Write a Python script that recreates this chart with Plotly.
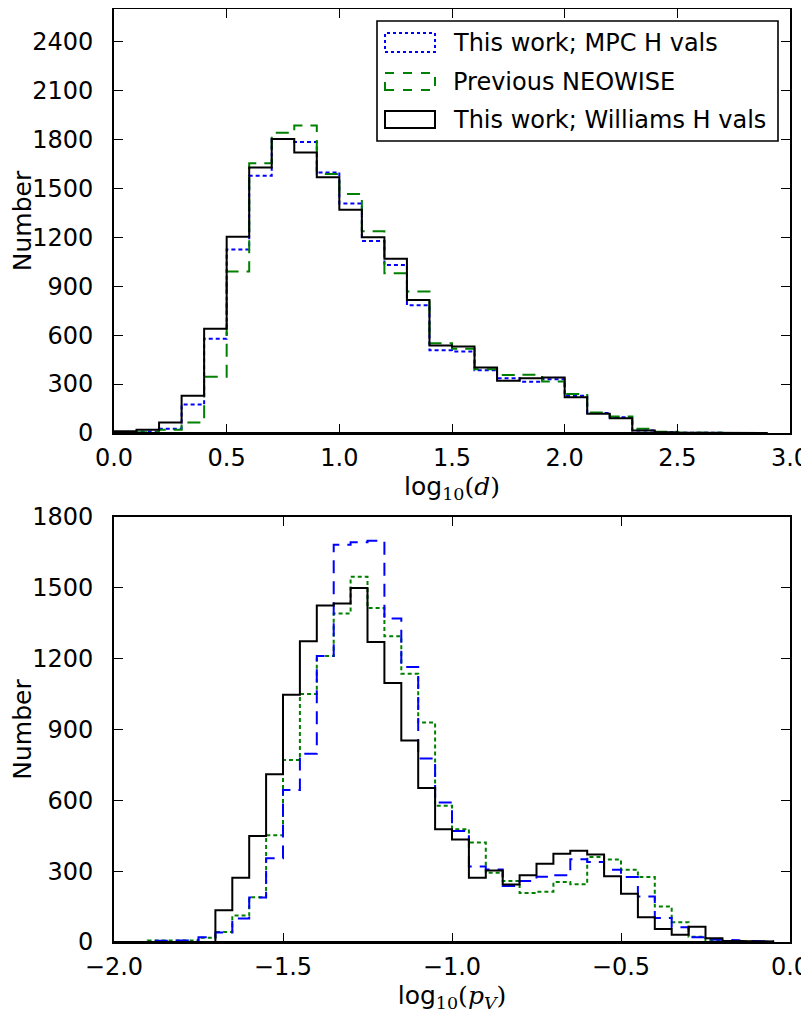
import numpy as np
import plotly.graph_objects as go
from plotly.subplots import make_subplots

# ---------------- data ----------------
# Top panel: log10(d), bins of 0.1 from 0.0 to 2.9
d_bin_start = 0.0
d_bin_width = 0.1
d_williams = [10, 20, 65, 229, 639, 1203, 1628, 1803, 1720, 1568, 1369, 1200, 1069, 815,
              537, 530, 401, 320, 335, 340, 219, 118, 91, 16, 4, 1, 1, 0, 0]
d_mpc = [3, 8, 26, 174, 578, 1126, 1578, 1803, 1785, 1598, 1407, 1178, 1030, 783,
         507, 499, 385, 335, 314, 330, 229, 122, 97, 16, 4, 2, 1, 0, 0]
d_prev = [1, 5, 20, 65, 345, 990, 1654, 1841, 1886, 1588, 1466, 1237, 980, 868,
          550, 517, 391, 355, 357, 316, 239, 126, 101, 26, 8, 2, 1, 0, 0]

# Bottom panel: log10(pV), bins of 0.05 from -2.0 to -0.05
p_bin_start = -2.0
p_bin_width = 0.05
p_williams = [0, 0, 0, 0, 0, 0, 135, 272, 449, 711, 1047, 1274, 1425, 1434, 1499, 1271,
              1097, 853, 652, 478, 434, 272, 303, 244, 283, 331, 374, 386, 371, 279,
              204, 105, 55, 31, 65, 16, 5, 3, 2]
p_mpc = [0, 0, 5, 6, 7, 20, 40, 100, 188, 355, 644, 797, 1211, 1682, 1693, 1699,
         1370, 1165, 777, 591, 470, 320, 307, 237, 258, 276, 283, 350, 339, 306,
         275, 193, 102, 62, 20, 11, 8, 5, 3]
p_prev = [0, 0, 6, 7, 6, 18, 42, 112, 190, 452, 771, 1050, 1211, 1391, 1547, 1415,
          1295, 1136, 930, 577, 478, 421, 293, 258, 208, 213, 254, 245, 360, 349,
          306, 275, 150, 84, 22, 8, 4, 2, 1]

legend_labels = ["This work; MPC H vals", "Previous NEOWISE", "This work; Williams H vals"]

BLUE = "#0000ff"
GREEN = "#008000"
BLACK = "#000000"
DOT = "4px,3px"
DASH = "13px,8px"


def step_outline(start, width, counts):
    """Closed step outline (matplotlib histtype='step' style)."""
    counts = np.asarray(counts, dtype=float)
    edges = start + width * np.arange(len(counts) + 1)
    xs = [edges[0]]
    ys = [0.0]
    for i, c in enumerate(counts):
        xs += [edges[i], edges[i + 1]]
        ys += [c, c]
    xs += [edges[-1], edges[0]]
    ys += [0.0, 0.0]
    return xs, ys


# page body has an 8px margin; lay the figure out in screenshot pixels
OFF = 8
W, H = 809 - OFF, 1013 - OFF
PL, PR, PT, PB = 114, 790, 9, 942          # plotting block in screenshot px
ML = PL - OFF
MT = PT - OFF
PW = PR - PL
PH = PB - PT
MR = W - ML - PW
MB = H - MT - PH


def fy(py):
    return (PB - py) / PH


def fx(px):
    return (px - PL) / PW


fig = make_subplots(rows=2, cols=1)

series_top = [(d_mpc, BLUE, DOT), (d_prev, GREEN, DASH), (d_williams, BLACK, "solid")]
for vals, col, dash in series_top:
    xs, ys = step_outline(d_bin_start, d_bin_width, vals)
    fig.add_trace(go.Scatter(x=xs, y=ys, mode="lines", showlegend=False,
                             line=dict(color=col, width=2, dash=dash)), row=1, col=1)

series_bot = [(p_prev, GREEN, DOT), (p_mpc, BLUE, DASH), (p_williams, BLACK, "solid")]
for vals, col, dash in series_bot:
    xs, ys = step_outline(p_bin_start, p_bin_width, vals)
    fig.add_trace(go.Scatter(x=xs, y=ys, mode="lines", showlegend=False,
                             line=dict(color=col, width=2, dash=dash)), row=2, col=1)

FONT = "DejaVu Sans"
TICK_FS = 24
TITLE_FS = 25
axis_common = dict(showline=True, linecolor="black", linewidth=1.6, mirror="allticks",
                   ticks="inside", ticklen=9, tickwidth=1.2, tickcolor="black",
                   showgrid=False, zeroline=False, automargin=False,
                   ticklabeloverflow="allow",
                   tickfont=dict(family=FONT, size=TICK_FS, color="black"))

SER = "font-family:DejaVu Serif"
fig.update_xaxes(axis_common, row=1, col=1, range=[0, 3], dtick=0.5, tick0=0,
                 tickformat=".1f", domain=[0, 1], ticklabelstandoff=2,
                 title=dict(text=f'log<sub><span style="{SER}">10</span></sub>'
                                 f'<span style="{SER}">(<i>d</i>)</span>',
                            font=dict(family=FONT, size=TITLE_FS, color="black"), standoff=0))
fig.update_yaxes(axis_common, row=1, col=1, range=[0, 2600], dtick=300, tick0=0,
                 domain=[fy(433), 1], ticklabelstandoff=14,
                 title=dict(text="Number", font=dict(family=FONT, size=TITLE_FS, color="black"),
                            standoff=0))
fig.update_xaxes(axis_common, row=2, col=1, range=[-2, 0], dtick=0.5, tick0=-2,
                 tickformat=".1f", domain=[0, 1], ticklabelstandoff=2,
                 title=dict(text=f'log<sub><span style="{SER}">10</span></sub>'
                                 f'<span style="{SER}">(<i>p</i><sub><i>V</i></sub>)</span>',
                            font=dict(family=FONT, size=TITLE_FS, color="black"), standoff=2))
fig.update_yaxes(axis_common, row=2, col=1, range=[0, 1800], dtick=300, tick0=0,
                 domain=[0, fy(517)], ticklabelstandoff=14,
                 title=dict(text="Number", font=dict(family=FONT, size=TITLE_FS, color="black"),
                            standoff=0))

# ---- manual legend (matplotlib-style patch handles) ----
shapes = []
annotations = []
shapes.append(dict(type="rect", xref="paper", yref="paper",
                   x0=fx(377), x1=fx(778), y0=fy(141), y1=fy(21),
                   line=dict(color="black", width=1.6), fillcolor="white", layer="above"))
handle_rows = [(33, 52, BLUE, "dot"), (73, 90, GREEN, "dash"), (111, 128, BLACK, "solid")]
for (top, bot, col, dsh), lab in zip(handle_rows, legend_labels):
    shapes.append(dict(type="rect", xref="paper", yref="paper",
                       x0=fx(385), x1=fx(435), y0=fy(bot), y1=fy(top),
                       line=dict(color=col, width=2, dash=dsh), layer="above"))
    annotations.append(dict(xref="paper", yref="paper", x=fx(451), y=fy((top + bot) / 2),
                            text=lab, showarrow=False, xanchor="left", yanchor="middle",
                            font=dict(family=FONT, size=24, color="black")))

fig.update_layout(width=W, height=H, margin=dict(l=ML, r=MR, t=MT, b=MB),
                  paper_bgcolor="white", plot_bgcolor="white",
                  shapes=shapes, annotations=annotations, showlegend=False)

fig.write_html("out.html")
